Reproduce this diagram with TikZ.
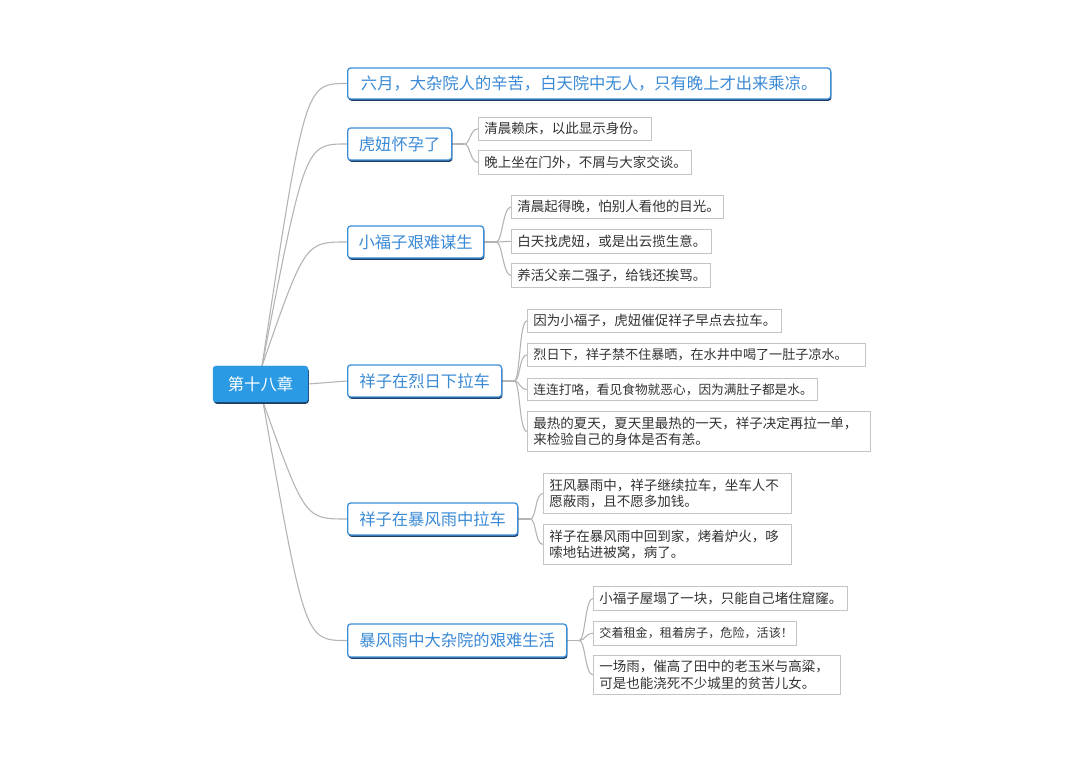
\documentclass[tikz,border=0pt]{standalone}
\usepackage{fontspec}
\setmainfont{Noto Sans CJK SC}
\usetikzlibrary{shadows,calc,backgrounds}
\definecolor{bblue}{HTML}{3C8FD9}
\definecolor{btext}{HTML}{3A8AD6}
\definecolor{rootfill}{HTML}{2A9AE4}
\definecolor{shad}{HTML}{1F3F66}
\definecolor{connc}{HTML}{B4B4B4}
\definecolor{lborder}{HTML}{C4C4C4}
\definecolor{ltext}{HTML}{333333}
\newcommand{\lfs}[1]{\fontsize{#1}{16.5}\selectfont}
\tikzset{
 branchbox/.style={draw=bblue, line width=1.3pt, fill=white, rounded corners=3pt, text=btext,
   font=\fontsize{16.3}{19}\selectfont, anchor=west, inner sep=0pt,
   drop shadow={shadow xshift=0.8pt, shadow yshift=-1.8pt, fill=shad, opacity=1}},
 rootbox/.style={fill=rootfill, draw=rootfill, rounded corners=3pt, text=white,
   font=\fontsize{16.3}{19}\selectfont, inner sep=0pt, minimum width=95pt, minimum height=36pt,
   drop shadow={shadow xshift=0.8pt, shadow yshift=-1.8pt, fill=shad, opacity=1}},
 leafbox/.style={draw=lborder, line width=0.8pt, fill=white, text=ltext,
   font=\lfs{13.5}, anchor=north west, align=left, inner xsep=6pt, inner ysep=0pt},
 connl/.style={draw=connc, line width=1.1pt},
}
\begin{document}
\begin{tikzpicture}[x=1pt,y=-1pt]
\useasboundingbox (0,0) rectangle (1080,759);
% root
\node[rootbox] (root) at (260.5,384) {第十八章};
% branches
\node[branchbox, minimum width=483pt, minimum height=31pt] (b1) at (347,83.5) {六月，大杂院人的辛苦，白天院中无人，只有晚上才出来乘凉。};
\node[branchbox, minimum width=104pt, minimum height=32pt] (b2) at (347,144) {虎妞怀孕了};
\node[branchbox, minimum width=136pt, minimum height=32pt] (b3) at (347,242) {小福子艰难谋生};
\node[branchbox, minimum width=154pt, minimum height=32pt] (b4) at (347,381) {祥子在烈日下拉车};
\node[branchbox, minimum width=170pt, minimum height=32pt] (b5) at (347,519) {祥子在暴风雨中拉车};
\node[branchbox, minimum width=219pt, minimum height=33pt] (b6) at (347,640.5) {暴风雨中大杂院的艰难生活};
% leaves
\node[leafbox, text width=161pt, minimum height=23pt] (l2a) at (478,117) {清晨赖床，以此显示身份。};
\node[leafbox, text width=201pt, minimum height=24pt] (l2b) at (478,150) {晚上坐在门外，不屑与大家交谈。};
\node[leafbox, text width=200pt, minimum height=23pt] (l3a) at (511,195) {清晨起得晚，怕别人看他的目光。};
\node[leafbox, text width=188pt, minimum height=24pt] (l3b) at (511,229) {白天找虎妞，或是出云揽生意。};
\node[leafbox, text width=187pt, minimum height=24pt] (l3c) at (511,263) {养活父亲二强子，给钱还挨骂。};
\node[leafbox, text width=242pt, minimum height=23pt] (l4a) at (527,309) {因为小福子，虎妞催促祥子早点去拉车。};
\node[leafbox, text width=326pt, minimum height=23pt, font=\lfs{13.1}] (l4b) at (527,343) {烈日下，祥子禁不住暴晒，在水井中喝了一肚子凉水。};
\node[leafbox, text width=278pt, minimum height=22pt, font=\lfs{12.7}] (l4c) at (527,378) {连连打咯，看见食物就恶心，因为满肚子都是水。};
\node[leafbox, text width=331pt, minimum height=40pt] (l4d) at (527,411) {最热的夏天，夏天里最热的一天，祥子决定再拉一单，\\来检验自己的身体是否有恙。};
\node[leafbox, text width=236pt, minimum height=40pt] (l5a) at (543,473) {狂风暴雨中，祥子继续拉车，坐车人不\\愿蔽雨，且不愿多加钱。};
\node[leafbox, text width=236pt, minimum height=40pt] (l5b) at (543,524) {祥子在暴风雨中回到家，烤着炉火，哆\\嗦地钻进被窝，病了。};
\node[leafbox, text width=242pt, minimum height=24pt] (l6a) at (593,586) {小福子屋塌了一块，只能自己堵住窟窿。};
\node[leafbox, text width=191pt, minimum height=24pt, font=\lfs{12.1}] (l6b) at (593,621) {交着租金，租着房子，危险，活该！};
\node[leafbox, text width=235pt, minimum height=39pt] (l6c) at (593,655) {一场雨，催高了田中的老玉米与高粱，\\可是也能浇死不少城里的贫苦儿女。};
% connectors
\begin{scope}[on background layer]
\coordinate (rt) at (262,366);
\coordinate (rb) at (263,402);
\foreach \b in {b1,b2,b3}{
  \draw[connl] (rt) .. controls ($(\b.west)+(-42,0)$) .. (\b.west);
}
\draw[connl] (root.east) -- (b4.west);
\foreach \b in {b5,b6}{
  \draw[connl] (rb) .. controls ($(\b.west)+(-42,0)$) .. (\b.west);
}
\foreach \b/\ls in {b2/{l2a,l2b}, b3/{l3a,l3b,l3c}, b4/{l4a,l4b,l4c,l4d}, b5/{l5a,l5b}, b6/{l6a,l6b,l6c}}{
  \coordinate (j) at ($(\b.east)+(12,0)$);
  \draw[connl] (\b.east) -- (j);
  \foreach \l in \ls {
    \draw[connl] (j) .. controls +(6,0) and +(-8,0) .. (\l.west);
  }
}
\end{scope}
\end{tikzpicture}
\end{document}
